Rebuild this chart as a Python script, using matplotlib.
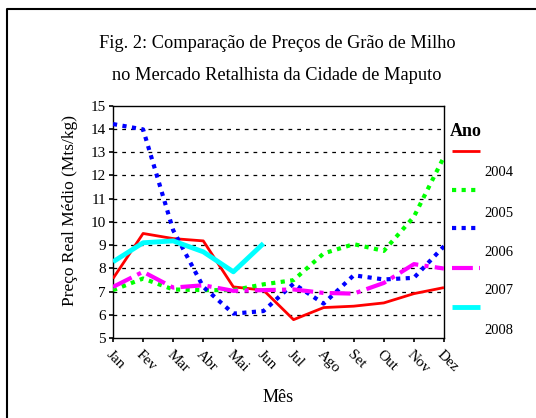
import matplotlib
matplotlib.use("Agg")
import matplotlib.pyplot as plt
from matplotlib.lines import Line2D
import matplotlib.transforms as mtransforms

plt.rcParams['font.family'] = ['Liberation Serif', 'DejaVu Serif']

months = ["Jan", "Fev", "Mar", "Abr", "Mai", "Jun", "Jul", "Ago", "Set", "Out", "Nov", "Dez"]
y2004 = [7.56, 9.50, 9.28, 9.18, 7.20, 7.06, 5.79, 6.31, 6.37, 6.51, 6.91, 7.17]
y2005 = [7.06, 7.56, 7.09, 7.06, 7.06, 7.31, 7.49, 8.64, 9.04, 8.75, 10.22, 12.80]
y2006 = [14.21, 13.98, 9.64, 7.20, 6.05, 6.16, 7.34, 6.48, 7.70, 7.52, 7.59, 8.95]
y2007 = [7.20, 7.85, 7.17, 7.27, 7.03, 7.06, 7.09, 6.94, 6.91, 7.37, 8.18, 7.99]
y2008 = [8.28, 9.10, 9.18, 8.71, 7.85, 9.07]
years = ["2004", "2005", "2006", "2007", "2008"]

W, H = 536, 418
fig = plt.figure(figsize=(W / 100, H / 100), dpi=100)
ax = fig.add_axes([113 / W, 1 - 338 / H, (444 - 113) / W, (338 - 105.7) / H])

styles = [
    dict(color="#ff0000", lw=2.0, ls="-"),
    dict(color="#00ff00", lw=3.0, ls=(0, (1, 1.3))),
    dict(color="#0000ff", lw=3.0, ls=(0, (1, 1.3))),
    dict(color="#ff00ff", lw=3.0, ls=(0, (5, 1.5, 1, 1.5))),
    dict(color="#00ffff", lw=3.5, ls="-"),
]
series = [y2004, y2005, y2006, y2007, y2008]
x = list(range(len(months)))
for s, st in zip(series, styles):
    ax.plot(x[:len(s)], s, color=st["color"], lw=st["lw"], ls=st["ls"],
            solid_capstyle="butt", dash_capstyle="butt", zorder=3)

ax.set_xlim(0, 11)
ax.set_ylim(5, 15)
ax.set_yticks(range(5, 16))
ax.set_xticks(x)
ax.set_xticklabels(months, rotation=-45, ha="left", va="top",
                   rotation_mode="anchor", fontsize=11)
offset = mtransforms.ScaledTranslation(3 / 100, 0, fig.dpi_scale_trans)
for lbl in ax.get_xticklabels():
    lbl.set_transform(lbl.get_transform() + offset)
ax.tick_params(axis="y", labelsize=11, length=3, width=1.2, pad=2)
ax.tick_params(axis="x", length=3, width=1.2, pad=4)
for yv in range(6, 15):
    ax.axhline(yv, color="black", lw=0.9, ls=(0, (3, 4)), zorder=1)
for sp in ax.spines.values():
    sp.set_linewidth(1.0)

fig.text(70 / W, 1 - 211 / H, "Preço Real Médio (Mts/kg)", fontsize=12.5,
         rotation=90, ha="center", va="center")
fig.text(278 / W, 1 - 398 / H, "Mês", fontsize=13, ha="center", va="center")

fig.text(277 / W, 1 - 44 / H, "Fig. 2: Comparação de Preços de Grão de Milho",
         fontsize=13.2, ha="center", va="center")
fig.text(277 / W, 1 - 76 / H, "no Mercado Retalhista da Cidade de Maputo",
         fontsize=13.2, ha="center", va="center")

# legend (manual layout as in the reference)
fig.text(450 / W, 1 - 131 / H, "Ano", fontsize=13, fontweight="bold",
         ha="left", va="center")
line_y = [151, 190, 228, 268, 307]
text_y = [173, 213, 252, 291, 330]
for yr, st, ly, ty in zip(years, styles, line_y, text_y):
    fig.add_artist(Line2D([452 / W, 480 / W], [1 - ly / H, 1 - ly / H],
                          color=st["color"], lw=st["lw"], ls=st["ls"],
                          solid_capstyle="butt", dash_capstyle="butt",
                          transform=fig.transFigure))
    fig.text(484 / W, 1 - ty / H, yr, fontsize=10.5, ha="left", va="center")

# outer frame (top and left edges)
fig.add_artist(Line2D([7 / W, 7 / W, 1.0], [0.0, 1 - 9 / H, 1 - 9 / H],
                      color="black", lw=1.5, transform=fig.transFigure))

fig.savefig("out.png", dpi=100)
